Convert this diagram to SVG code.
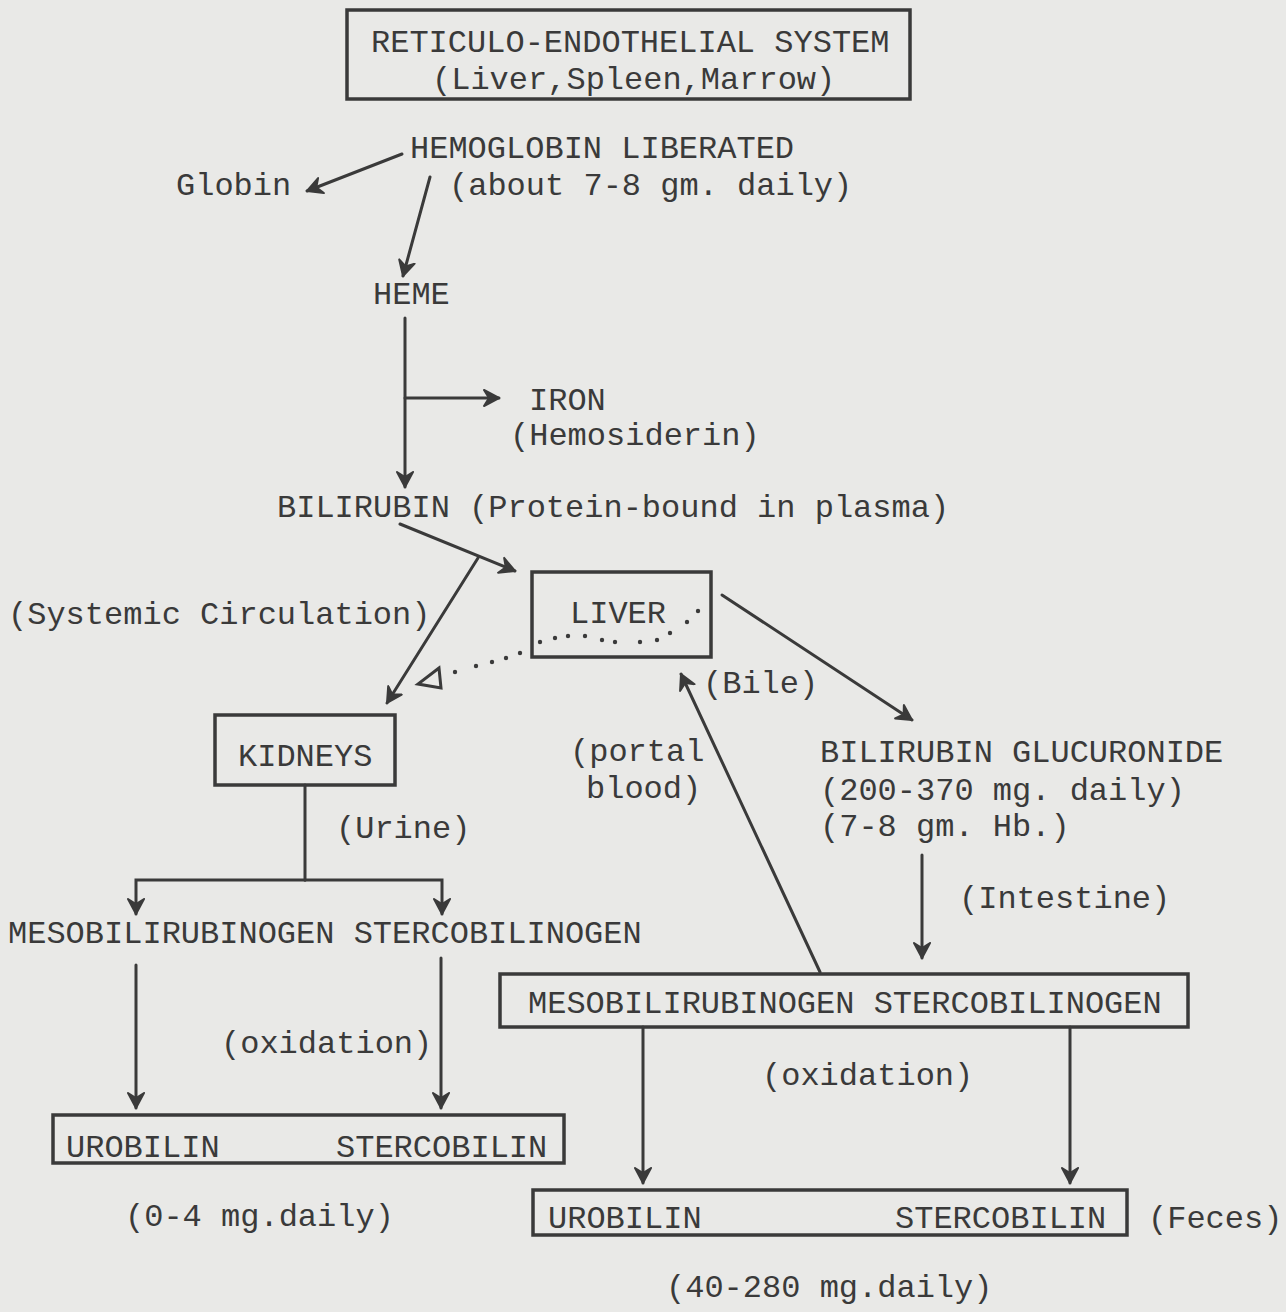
<svg xmlns="http://www.w3.org/2000/svg" width="1286" height="1312" viewBox="0 0 1286 1312">
<defs>
<style>
text{font-family:"Liberation Mono","DejaVu Sans Mono",monospace;font-size:32px;fill:#3a3a3a}
.box{fill:none;stroke:#3a3a3a;stroke-width:3.5}
.ln{fill:none;stroke:#3a3a3a;stroke-width:3;stroke-linecap:round}
.arr{marker-end:url(#ah)}
.dot{fill:#3a3a3a}
</style>
<marker id="ah" markerUnits="userSpaceOnUse" viewBox="-16 -10 18 20" refX="0" refY="0" markerWidth="18" markerHeight="20" orient="auto">
<path d="M0,0 L-15,-8 L-10,0 L-15,8 Z" fill="#3a3a3a" stroke="#3a3a3a" stroke-width="2" stroke-linejoin="round"/>
</marker>
</defs>
<rect width="1286" height="1312" fill="#e9e9e7"/>

<g id="res">
<rect class="box" x="347" y="10" width="563" height="89"/>
<text x="371" y="52">RETICULO-ENDOTHELIAL SYSTEM</text>
<text x="432" y="89">(Liver,Spleen,Marrow)</text>
</g>
<g id="hemoglobin">
<text x="410" y="158">HEMOGLOBIN LIBERATED</text>
<text x="449" y="195">(about 7-8 gm. daily)</text>
</g>
<g id="globin"><text x="176" y="195">Globin</text></g>
<g id="heme"><text x="373" y="304">HEME</text></g>
<g id="iron">
<text x="529" y="410">IRON</text>
<text x="510" y="445">(Hemosiderin)</text>
</g>
<g id="bilirubin"><text x="277" y="517">BILIRUBIN (Protein-bound in plasma)</text></g>
<g id="systemic"><text x="8" y="624">(Systemic Circulation)</text></g>
<g id="liver">
<rect class="box" x="532" y="572" width="179" height="85"/>
<text x="570" y="623">LIVER</text>
</g>
<g id="bile"><text x="703" y="693">(Bile)</text></g>
<g id="kidneys">
<rect class="box" x="215" y="715" width="180" height="70"/>
<text x="238" y="766">KIDNEYS</text>
</g>
<g id="portal">
<text x="570" y="761">(portal</text>
<text x="586" y="798">blood)</text>
</g>
<g id="glucuronide">
<text x="820" y="762">BILIRUBIN GLUCURONIDE</text>
<text x="820" y="800">(200-370 mg. daily)</text>
<text x="820" y="836">(7-8 gm. Hb.)</text>
</g>
<g id="urine"><text x="336" y="838">(Urine)</text></g>
<g id="intestine"><text x="959" y="908">(Intestine)</text></g>
<g id="meso-left"><text x="8" y="943">MESOBILIRUBINOGEN STERCOBILINOGEN</text></g>
<g id="meso-right">
<rect class="box" x="500" y="974" width="688" height="53"/>
<text x="528" y="1013">MESOBILIRUBINOGEN STERCOBILINOGEN</text>
</g>
<g id="oxidation-left"><text x="221" y="1053">(oxidation)</text></g>
<g id="oxidation-right"><text x="762" y="1085">(oxidation)</text></g>
<g id="uro-left">
<rect class="box" x="53" y="1115" width="511" height="48"/>
<text x="66" y="1157">UROBILIN</text>
<text x="336" y="1157">STERCOBILIN</text>
</g>
<g id="urine-amount"><text x="125" y="1226">(0-4 mg.daily)</text></g>
<g id="uro-right">
<rect class="box" x="533" y="1190" width="594" height="45"/>
<text x="548" y="1228">UROBILIN</text>
<text x="895" y="1228">STERCOBILIN</text>
</g>
<g id="feces"><text x="1148" y="1228">(Feces)</text></g>
<g id="feces-amount"><text x="666" y="1297">(40-280 mg.daily)</text></g>

<g id="connectors">
<line class="ln arr" x1="402" y1="154" x2="307" y2="191"/>
<line class="ln arr" x1="430" y1="177" x2="403" y2="276"/>
<line class="ln arr" x1="405" y1="318" x2="405" y2="487"/>
<line class="ln arr" x1="405" y1="398" x2="499" y2="398"/>
<line class="ln arr" x1="400" y1="524" x2="515" y2="571"/>
<line class="ln arr" x1="478" y1="558" x2="387" y2="703"/>
<line class="ln arr" x1="722" y1="595" x2="912" y2="720"/>
<line class="ln arr" x1="820" y1="972" x2="681" y2="674"/>
<polyline class="ln" points="305,785 305,880"/>
<polyline class="ln arr" points="305,880 136,880 136,914"/>
<polyline class="ln arr" points="305,880 442,880 442,914"/>
<line class="ln arr" x1="922" y1="855" x2="922" y2="958"/>
<line class="ln arr" x1="136" y1="965" x2="136" y2="1108"/>
<line class="ln arr" x1="441" y1="958" x2="441" y2="1108"/>
<line class="ln arr" x1="643" y1="1027" x2="643" y2="1183"/>
<line class="ln arr" x1="1070" y1="1027" x2="1070" y2="1183"/>
<g class="dot">
<circle cx="698" cy="611" r="2.2"/><circle cx="687" cy="622" r="2.2"/><circle cx="670" cy="633" r="2.2"/>
<circle cx="657" cy="640" r="2.2"/><circle cx="640" cy="642" r="2.2"/><circle cx="615" cy="642" r="2.2"/>
<circle cx="602" cy="640" r="2.2"/><circle cx="585" cy="636" r="2.2"/><circle cx="568" cy="636" r="2.2"/>
<circle cx="555" cy="638" r="2.2"/><circle cx="540" cy="642" r="2.2"/>
<circle cx="520" cy="653" r="2.2"/><circle cx="506" cy="658" r="2.2"/><circle cx="492" cy="662" r="2.2"/>
<circle cx="476" cy="666" r="2.2"/><circle cx="455" cy="672" r="2.2"/>
</g>
<path class="ln" d="M439,668 L418,684 L441,688 Z" stroke-width="2.5"/>
</g>
</svg>
